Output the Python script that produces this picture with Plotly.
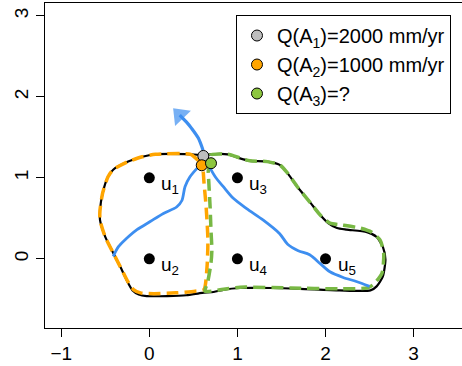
import plotly.graph_objects as go

# ---------------- data (axis units) ----------------
# whole catchment A1 (black outline)
a1_x = [0.61, 0.69, 0.89, 1.03, 1.14, 1.34, 1.48, 1.56, 1.68, 1.83, 1.94, 2.03, 2.13, 2.24, 2.47, 2.58,
        2.65, 2.68, 2.65, 2.58, 2.51, 2.16, 1.71, 1.40, 1.03, 0.85, 0.73, 0.60, 0.42, 0.20, -0.03, -0.12,
        -0.19, -0.25, -0.31, -0.39, -0.50, -0.56, -0.56, -0.53, -0.47, -0.41, -0.24, -0.08, 0.07, 0.48, 0.61]
a1_y = [1.28, 1.29, 1.29, 1.24, 1.21, 1.20, 1.16, 1.07, 0.89, 0.69, 0.54, 0.44, 0.38, 0.36, 0.33, 0.27,
        0.15, -0.01, -0.22, -0.34, -0.39, -0.39, -0.37, -0.36, -0.36, -0.38, -0.41, -0.42, -0.45, -0.46, -0.46, -0.44,
        -0.39, -0.28, -0.14, 0.03, 0.27, 0.48, 0.60, 0.81, 1.01, 1.10, 1.20, 1.26, 1.29, 1.29, 1.28]

# sub-catchment A2 (orange dashed)
a2_x = [0.60, 0.53, 0.47, 0.07, -0.08, -0.24, -0.41, -0.47, -0.53, -0.56, -0.56, -0.50, -0.39, -0.31, -0.25,
        -0.18, -0.10, 0.05, 0.30, 0.52, 0.62, 0.655, 0.665, 0.645, 0.62, 0.61, 0.60]
a2_y = [1.16, 1.24, 1.29, 1.29, 1.26, 1.20, 1.10, 1.01, 0.81, 0.60, 0.48, 0.27, 0.03, -0.14, -0.27,
        -0.38, -0.42, -0.43, -0.42, -0.40, -0.38, -0.10, 0.23, 0.64, 0.95, 1.10, 1.16]

# sub-catchment A3 (green dashed)
a3_x = [0.70, 0.69, 0.89, 1.03, 1.14, 1.34, 1.48, 1.56, 1.68, 1.83, 1.94, 2.05, 2.17, 2.39, 2.52, 2.62,
        2.66, 2.64, 2.54, 2.47, 2.16, 1.60, 1.03, 0.82, 0.63, 0.66, 0.70, 0.71, 0.70, 0.69, 0.675, 0.67, 0.70]
a3_y = [1.18, 1.28, 1.29, 1.245, 1.21, 1.20, 1.16, 1.07, 0.89, 0.69, 0.54, 0.44, 0.42, 0.38, 0.33, 0.23,
        0.07, -0.18, -0.32, -0.36, -0.37, -0.36, -0.35, -0.38, -0.40, -0.30, -0.05, 0.11, 0.35, 0.64, 0.95, 1.10, 1.18]

# stream network
river1_x = [0.57, 0.46, 0.405, 0.37, 0.31, 0.16, 0.01, -0.14, -0.26, -0.35, -0.41]
river1_y = [1.15, 1.01, 0.89, 0.72, 0.64, 0.56, 0.46, 0.36, 0.25, 0.15, 0.03]
river2_x = [0.67, 0.75, 0.84, 0.95, 1.105, 1.29, 1.48, 1.57, 1.69, 1.82, 1.94, 2.05, 2.20, 2.35, 2.50]
river2_y = [1.16, 1.01, 0.89, 0.75, 0.62, 0.48, 0.31, 0.18, 0.10, 0.05, -0.06, -0.16, -0.23, -0.28, -0.34]
arrow_x = [0.61, 0.556, 0.48, 0.42, 0.345]
arrow_y = [1.34, 1.49, 1.61, 1.69, 1.775]

# grid points
u_x = [0, 0, 1, 1, 2]
u_y = [1, 0, 1, 0, 0]
u_labels = ["u<sub>1</sub>", "u<sub>2</sub>", "u<sub>3</sub>", "u<sub>4</sub>", "u<sub>5</sub>"]

# outlets
out_x = [0.613, 0.595, 0.70]
out_y = [1.27, 1.155, 1.18]
out_names = ["Q(A<sub>1</sub>)=2000 mm/yr", "Q(A<sub>2</sub>)=1000 mm/yr", "Q(A<sub>3</sub>)=?"]
out_colors = ["#BEBEBE", "#FFA500", "#8DC63F"]

x_ticks = [-1, 0, 1, 2, 3]
y_ticks = [0, 1, 2, 3]

BLUE = "#3D8EF0"
GREEN = "#78B844"
ORANGE = "#FFA500"
FONT = "Liberation Sans, Arial, Helvetica, sans-serif"

fig = go.Figure()
fig.add_trace(go.Scatter(x=a1_x, y=a1_y, mode="lines", line=dict(color="black", width=2.2, shape="spline", smoothing=0.6),
                         showlegend=False, hoverinfo="skip"))
fig.add_trace(go.Scatter(x=a2_x, y=a2_y, mode="lines",
                         line=dict(color=ORANGE, width=3.5, dash="12px,6px", shape="spline", smoothing=0.6),
                         showlegend=False, hoverinfo="skip"))
fig.add_trace(go.Scatter(x=a3_x, y=a3_y, mode="lines",
                         line=dict(color=GREEN, width=3.5, dash="12px,6px", shape="spline", smoothing=0.6),
                         showlegend=False, hoverinfo="skip"))
for rx, ry in [(river1_x, river1_y), (river2_x, river2_y)]:
    fig.add_trace(go.Scatter(x=rx, y=ry, mode="lines", line=dict(color=BLUE, width=2.8, shape="spline", smoothing=0.8),
                             showlegend=False, hoverinfo="skip"))
fig.add_trace(go.Scatter(x=arrow_x, y=arrow_y, mode="lines+markers",
                         line=dict(color=BLUE, width=3.2, shape="spline", smoothing=0.8),
                         marker=dict(symbol="triangle-up", size=[0] * (len(arrow_x) - 1) + [19], color=BLUE,
                                     angleref="previous", line=dict(width=0)),
                         showlegend=False, hoverinfo="skip"))
fig.add_trace(go.Scatter(x=u_x, y=u_y, mode="markers", marker=dict(color="black", size=11),
                         showlegend=False, hoverinfo="skip"))
for i in range(3):
    fig.add_trace(go.Scatter(x=[out_x[i]], y=[out_y[i]], mode="markers", name=out_names[i],
                             marker=dict(color=out_colors[i], size=11, line=dict(color="black", width=1))))

for x, y, t in zip(u_x, u_y, u_labels):
    fig.add_annotation(x=x, y=y, text=t, showarrow=False, xanchor="left", yanchor="middle",
                       xshift=10, yshift=-7, font=dict(size=19, color="black", family=FONT))

axis_common = dict(showgrid=False, zeroline=False, showline=True, linecolor="black", linewidth=1.2,
                   ticks="outside", ticklen=8, tickwidth=1.2, tickcolor="black",
                   tickfont=dict(size=19, color="black", family=FONT))
fig.update_xaxes(range=[-1.184, 3.549], tickvals=x_ticks, mirror=True, **axis_common)
fig.update_yaxes(range=[-0.854, 3.158], tickvals=y_ticks, tickangle=-90, mirror=False, **axis_common)

fig.update_layout(
    width=462, height=366,
    margin=dict(l=45, r=0, t=3, b=38),
    paper_bgcolor="white", plot_bgcolor="white",
    font=dict(family=FONT, color="black", size=19),
    legend=dict(x=0.458, y=0.963, xanchor="left", yanchor="top",
                bgcolor="white", bordercolor="black", borderwidth=1,
                font=dict(size=20, family=FONT), itemwidth=30, tracegroupgap=0),
)

fig.write_html("out.html")
